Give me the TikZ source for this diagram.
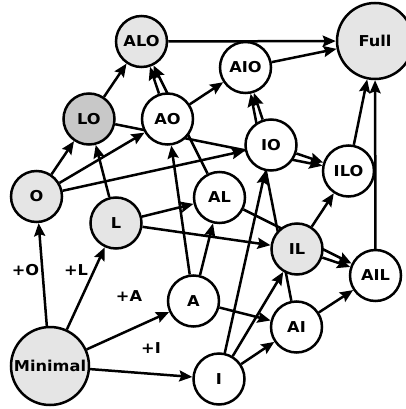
\documentclass[tikz,border=0pt]{standalone}
\usepackage{fontspec}
\usepackage{graphicx}
\newfontfamily\nodefont{DejaVu Sans}
\usetikzlibrary{arrows.meta,backgrounds}
\newcommand{\nl}[1]{\scalebox{1.08}[1]{#1}}
\definecolor{lg}{RGB}{229,229,229}
\definecolor{dg}{RGB}{200,200,200}
\tikzset{
  st/.style={circle,draw=black,line width=2.5pt,fill=white,minimum size=51pt,inner sep=0pt,
    font=\nodefont\bfseries\fontsize{15}{15}\selectfont},
  lgst/.style={st,fill=lg},
  dgst/.style={st,fill=dg},
  lab/.style={font=\nodefont\bfseries\fontsize{15}{15}\selectfont,inner sep=0pt},
  edge/.style={line width=2.5pt,-{Stealth[length=13pt,width=11pt,inset=2pt]}}
}
\begin{document}
\begin{tikzpicture}[x=1pt,y=-1pt]
\useasboundingbox (0,0) rectangle (406,409);
\node[lgst] (ALO) at (141.5,41.5) {\nl{ALO}};
\node[lgst,minimum size=76pt] (Full) at (375,41) {\nl{Full}};
\node[st] (AIO) at (245.5,67.5) {\nl{AIO}};
\node[dgst] (LO) at (89,119) {\nl{LO}};
\node[st] (AO) at (167.5,119) {\nl{AO}};
\node[st] (IO) at (271,145) {\nl{IO}};
\node[st] (ILO) at (348.5,171) {\nl{ILO}};
\node[lgst] (O) at (36.5,196.5) {\nl{O}};
\node[lgst] (L) at (116,223) {\nl{L}};
\node[st] (AL) at (219.5,197.5) {\nl{AL}};
\node[lgst] (IL) at (297,249) {\nl{IL}};
\node[st] (AIL) at (375.5,275.5) {\nl{AIL}};
\node[st] (A) at (193.5,301) {\nl{A}};
\node[st] (AI) at (296.5,327) {\nl{AI}};
\node[st] (I) at (219,379) {\nl{I}};
\node[lgst,minimum size=78pt] (Minimal) at (50,366) {\nl{Minimal}};
\node[lab] (lO) at (25.5,270) {\nl{+O}};
\node[lab] (lL) at (76,270) {\nl{+L}};
\node[lab] (lA) at (129,296.5) {\nl{+A}};
\node[lab] (lI) at (151,348) {\nl{+I}};
\begin{pgfonlayer}{background}
\foreach \s/\t in {Minimal/O,Minimal/L,Minimal/A,Minimal/I,
  O/LO,O/AO,O/IO,L/LO,L/AL,L/IL,A/AO,A/AL,A/AI,I/AI,I/IL,I/IO,
  LO/ALO,LO/ILO,AO/ALO,AO/AIO,AL/ALO,AL/AIL,IO/AIO,IO/ILO,AI/AIO,AI/AIL,IL/AIL,IL/ILO,
  ALO/Full,AIO/Full,AIL/Full,ILO/Full}
  \draw[edge] (\s) -- (\t);
\end{pgfonlayer}
\end{tikzpicture}
\end{document}
